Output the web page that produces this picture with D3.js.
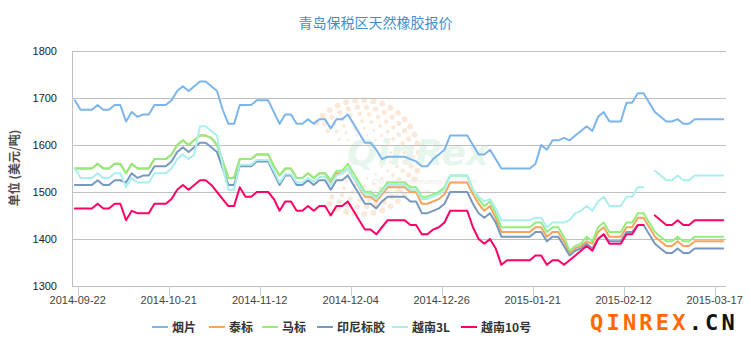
<!DOCTYPE html>
<html>
<head>
<meta charset="utf-8">
<script src="https://cdn.jsdelivr.net/npm/d3@7"></script>
<style>
  html, body { margin: 0; padding: 0; background: #fff; }
  svg { display: block; }
</style>
</head>
<body>
<svg id="chart" width="751" height="340"></svg>
<script>
// Daily quotes, Qingdao bonded zone natural rubber (USD/ton), 115 trading days
const tickLabels = ["2014-09-22", "2014-10-21", "2014-11-12", "2014-12-04",
                    "2014-12-26", "2015-01-21", "2015-02-12", "2015-03-17"];
const tickIndex = [0, 16, 32, 48, 64, 80, 96, 112];
const yTicks = [1300, 1400, 1500, 1600, 1700, 1800];

const seriesNames = ["烟片", "泰标", "马标", "印尼标胶", "越南3L", "越南10号"];
const seriesColors = ["#7cb5ec", "#f7a35c", "#90ee7e", "#7798bf", "#aaeeee", "#ff0066"];

const yanpian = [
  1695,1675,1675,1675,1685,1675,1675,1685,1685,1650,
  1670,1660,1665,1665,1685,1685,1685,1695,1715,1725,
  1715,1725,1735,1735,1725,1715,1675,1645,1645,1685,
  1685,1685,1695,1695,1695,1670,1645,1665,1665,1645,
  1645,1655,1645,1655,1655,1635,1655,1655,1665,1645,
  1625,1605,1605,1590,1570,1575,1575,1575,1575,1570,
  1565,1555,1555,1570,1580,1590,1620,1620,1620,1620,
  1600,1580,1580,1590,1570,1550,1550,1550,1550,1550,
  1550,1560,1600,1590,1610,1610,1615,1610,1620,1630,
  1640,1630,1660,1670,1650,1650,1650,1690,1690,1710,
  1710,1690,1670,1660,1650,1650,1655,1645,1645,1655,
  1655,1655,1655,1655,1655];

const taibiao = [
  1550,1550,1550,1550,1560,1550,1550,1560,1560,1540,
  1560,1550,1550,1550,1570,1570,1570,1580,1600,1610,
  1600,1610,1620,1620,1615,1600,1565,1530,1530,1570,
  1570,1570,1580,1580,1580,1555,1535,1550,1550,1530,
  1530,1540,1530,1540,1540,1520,1540,1540,1550,1530,
  1510,1490,1490,1480,1495,1510,1510,1510,1510,1500,
  1500,1475,1475,1480,1485,1495,1520,1520,1520,1520,
  1495,1475,1460,1470,1445,1415,1415,1415,1415,1415,
  1415,1425,1425,1405,1415,1415,1395,1370,1380,1385,
  1395,1390,1415,1425,1405,1405,1405,1425,1425,1445,
  1445,1425,1405,1395,1385,1385,1395,1385,1385,1395,
  1395,1395,1395,1395,1395];

const mabiao = [
  1550,1550,1550,1550,1560,1550,1550,1560,1560,1540,
  1560,1550,1550,1550,1570,1570,1570,1580,1600,1610,
  1600,1610,1620,1620,1615,1600,1565,1530,1530,1570,
  1570,1570,1580,1580,1580,1555,1535,1550,1550,1530,
  1530,1540,1530,1540,1540,1525,1545,1545,1560,1540,
  1520,1500,1500,1490,1505,1520,1520,1520,1520,1510,
  1510,1490,1490,1495,1500,1510,1535,1535,1535,1535,
  1505,1485,1470,1480,1455,1425,1425,1425,1425,1425,
  1425,1435,1435,1415,1425,1425,1405,1375,1385,1390,
  1405,1395,1425,1435,1415,1415,1415,1435,1435,1455,
  1455,1435,1415,1405,1395,1395,1405,1395,1395,1405,
  1405,1405,1405,1405,1405];

const yinni = [
  1515,1515,1515,1515,1525,1515,1515,1525,1525,1520,
  1540,1530,1535,1535,1555,1555,1555,1565,1585,1595,
  1585,1595,1605,1605,1595,1585,1550,1515,1515,1555,
  1555,1555,1565,1565,1565,1540,1515,1535,1535,1515,
  1515,1525,1515,1525,1525,1505,1525,1525,1535,1515,
  1495,1475,1475,1465,1480,1490,1490,1490,1490,1480,
  1480,1455,1455,1460,1465,1475,1500,1500,1500,1500,
  1475,1455,1445,1455,1435,1405,1405,1405,1405,1405,
  1405,1415,1415,1395,1405,1405,1385,1365,1375,1380,
  1390,1380,1400,1410,1395,1395,1395,1415,1415,1430,
  1430,1410,1390,1380,1370,1370,1380,1370,1370,1380,
  1380,1380,1380,1380,1380];

const yuenan3L = [
  1550,1530,1530,1530,1540,1530,1530,1540,1540,1510,
  1530,1520,1520,1520,1540,1540,1540,1550,1570,1580,
  1570,1580,1640,1640,1630,1620,1555,1505,1505,1558,
  1558,1558,1568,1568,1568,1545,1520,1538,1538,1520,
  1520,1530,1522,1532,1532,1515,1535,1540,1550,1530,
  1512,1495,1495,1485,1500,1515,1515,1515,1515,1505,
  1505,1485,1485,1490,1495,1505,1535,1535,1535,1535,
  1505,1490,1480,1485,1465,1440,1440,1440,1440,1440,
  1440,1445,1445,1425,1435,1435,1435,1440,1455,1460,
  1470,1460,1480,1490,1470,1470,1470,1490,1490,1510,
  1510,null,1545,1535,1525,1525,1535,1525,1525,1535,
  1535,1535,1535,1535,1535];

const yuenan10 = [
  1465,1465,1465,1465,1475,1465,1465,1475,1475,1440,
  1460,1455,1455,1455,1475,1475,1475,1485,1505,1515,
  1505,1515,1525,1525,1515,1500,1485,1470,1470,1510,
  1490,1490,1500,1500,1500,1485,1460,1480,1480,1460,
  1460,1470,1460,1470,1470,1450,1470,1470,1480,1460,
  1440,1420,1420,1410,1425,1440,1440,1440,1440,1430,
  1430,1410,1410,1420,1425,1435,1460,1460,1460,1460,
  1425,1400,1390,1400,1380,1345,1355,1355,1355,1355,
  1355,1365,1365,1345,1355,1355,1345,1355,1365,1375,
  1385,1375,1400,1410,1390,1390,1390,1410,1410,1430,
  1430,null,1450,1440,1430,1430,1440,1430,1430,1440,
  1440,1440,1440,1440,1440];

const seriesData = [yanpian, taibiao, mabiao, yinni, yuenan3L, yuenan10];

const svg = d3.select("#chart");
const W = 751;
const plot = { left: 72, right: 726, top: 51, bottom: 286 };
const n = yanpian.length;

const x = d3.scaleBand().domain(d3.range(n)).range([plot.left, plot.right]);
const cx = i => x(i) + x.bandwidth() / 2;
const y = d3.scaleLinear().domain([1300, 1800]).range([plot.bottom, plot.top]);

// title
svg.append("text")
  .attr("x", W / 2).attr("y", 28)
  .attr("text-anchor", "middle")
  .attr("font-family", "'Noto Sans CJK SC', sans-serif")
  .attr("font-size", 14)
  .attr("fill", "#3d8fd1")
  .text("青岛保税区天然橡胶报价");

// watermark logo in the plot background
const wm = svg.append("g").attr("opacity", 0.5);
const dotCx = 362, dotCy = 157;
for (let ring = 0; ring < 6; ring++) {
  const r = 22 + ring * 7;
  const count = 14 + ring * 5;
  for (let k = 0; k < count; k++) {
    const a = (k / count) * Math.PI * 2;
    if (a > 5.4 || a < 0.6) continue;
    wm.append("circle")
      .attr("cx", dotCx + r * Math.cos(a + Math.PI))
      .attr("cy", dotCy + r * Math.sin(a + Math.PI))
      .attr("r", 1.2 + ring * 0.35)
      .attr("fill", "#fbd3b4");
  }
}
wm.append("text")
  .attr("x", 418).attr("y", 165)
  .attr("text-anchor", "middle")
  .attr("font-family", "'DejaVu Sans', sans-serif")
  .attr("font-weight", "bold").attr("font-style", "italic")
  .attr("font-size", 36)
  .attr("fill", "#cfeedd")
  .text("QinRex");
wm.append("text")
  .attr("x", 372).attr("y", 184)
  .attr("font-family", "'Liberation Sans', sans-serif")
  .attr("font-style", "italic")
  .attr("font-size", 8)
  .attr("fill", "#d8d8d8")
  .text("Qingdao International Rubber");
wm.append("text")
  .attr("x", 368).attr("y", 194)
  .attr("font-family", "'Liberation Sans', sans-serif")
  .attr("font-style", "italic")
  .attr("font-size", 8)
  .attr("fill", "#d8d8d8")
  .text("Exchange Market");

// horizontal grid lines
svg.append("g").selectAll("line").data(yTicks).join("line")
  .attr("x1", plot.left).attr("x2", plot.right)
  .attr("y1", d => Math.round(y(d)) + 0.5).attr("y2", d => Math.round(y(d)) + 0.5)
  .attr("stroke", "#c0c0c0").attr("stroke-width", 1);

// left axis line
svg.append("line")
  .attr("x1", plot.left + 0.5).attr("x2", plot.left + 0.5)
  .attr("y1", plot.top).attr("y2", plot.bottom)
  .attr("stroke", "#c0c0c0");

// y labels
svg.append("g").selectAll("text").data(yTicks).join("text")
  .attr("x", 57).attr("y", d => y(d) + 4)
  .attr("text-anchor", "end")
  .attr("font-family", "'Liberation Sans', sans-serif")
  .attr("font-size", 11)
  .attr("fill", "#222")
  .text(d => d);

// y axis title
svg.append("text")
  .attr("transform", "translate(19,168) rotate(-90)")
  .attr("text-anchor", "middle")
  .attr("font-family", "'Noto Sans CJK SC', sans-serif")
  .attr("font-size", 12)
  .attr("font-weight", "bold")
  .attr("fill", "#4d4d4d")
  .text("单位 (美元/吨)");

// x axis ticks (between categories) and labels
const xt = svg.append("g");
xt.selectAll("line").data(tickIndex).join("line")
  .attr("x1", d => Math.round(x(d) + x.bandwidth()) + 0.5)
  .attr("x2", d => Math.round(x(d) + x.bandwidth()) + 0.5)
  .attr("y1", plot.bottom).attr("y2", plot.bottom + 10)
  .attr("stroke", "#c0d0e0");
xt.selectAll("text").data(tickIndex).join("text")
  .attr("x", d => x(d) + x.bandwidth())
  .attr("y", 304)
  .attr("text-anchor", "middle")
  .attr("font-family", "'Liberation Sans', sans-serif")
  .attr("font-size", 11)
  .attr("fill", "#444")
  .text((d, i) => tickLabels[i]);

// series lines
const line = d3.line()
  .defined(d => d != null)
  .x((d, i) => cx(i))
  .y(d => y(d));

svg.append("g").selectAll("path").data(seriesData).join("path")
  .attr("d", d => line(d))
  .attr("fill", "none")
  .attr("stroke", (d, i) => seriesColors[i])
  .attr("stroke-width", 2)
  .attr("stroke-linejoin", "round")
  .attr("stroke-linecap", "round");

// legend
const legendStarts = [152, 209, 262, 317, 392, 461];
const lg = svg.append("g");
seriesNames.forEach((name, i) => {
  const g = lg.append("g").attr("transform", `translate(${legendStarts[i]},327)`);
  g.append("line").attr("x1", 0).attr("x2", 16).attr("y1", 0).attr("y2", 0)
    .attr("stroke", seriesColors[i]).attr("stroke-width", 2);
  g.append("text").attr("x", 20).attr("y", 5)
    .attr("font-family", "'Noto Sans CJK SC', sans-serif")
    .attr("font-size", 12).attr("font-weight", "bold")
    .attr("fill", "#333")
    .text(name);
});

// site mark
const mark = svg.append("text")
  .attr("x", 590).attr("y", 330)
  .attr("font-family", "'DejaVu Sans Mono', monospace")
  .attr("font-weight", "bold")
  .attr("font-size", 22)
  .attr("letter-spacing", 3.2);
mark.append("tspan").attr("fill", "#ff6a00").text("QINREX");
mark.append("tspan").attr("fill", "#111").text(".CN");
</script>
</body>
</html>
